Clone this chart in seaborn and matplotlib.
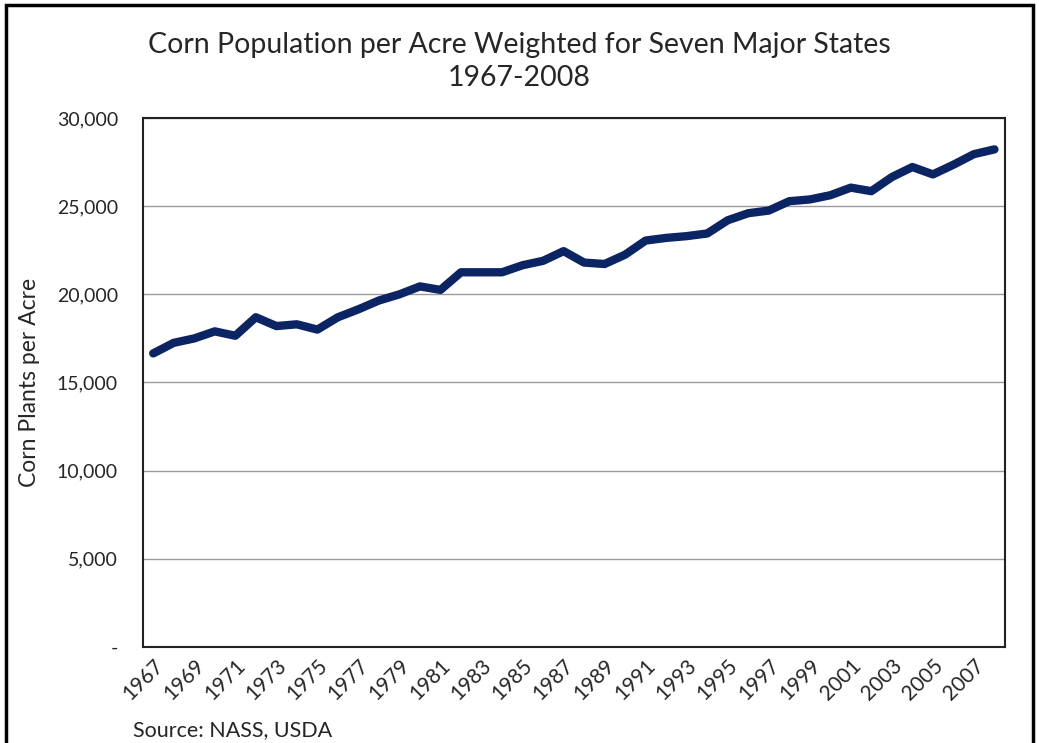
import pandas as pd
import matplotlib.pyplot as plt
import seaborn as sns
from matplotlib.patches import Rectangle
from matplotlib.ticker import FuncFormatter

years = list(range(1967, 2009))
plants = [16650, 17250, 17500, 17900, 17650, 18700, 18200, 18300, 18000, 18700,
          19150, 19650, 20000, 20450, 20250, 21250, 21250, 21250, 21650, 21900,
          22450, 21800, 21720, 22250, 23050, 23200, 23300, 23450, 24200, 24600,
          24750, 25280, 25380, 25620, 26050, 25850, 26650, 27220, 26800, 27350,
          27950, 28220]
tick_years = list(range(1967, 2009, 2))

df = pd.DataFrame({'Year': years, 'Plants': plants})

sns.set_style("white")
plt.rcParams['font.family'] = ['Lato', 'DejaVu Sans']

fig = plt.figure(figsize=(10.39, 7.43), dpi=100)
ax = fig.add_axes([0.1376, 0.1292, 0.8294, 0.712])

sns.lineplot(data=df, x='Year', y='Plants', ax=ax, color='#0b2463', linewidth=6,
             solid_joinstyle='round', solid_capstyle='round')

ax.set_xlim(1966.5, 2008.5)
ax.set_ylim(0, 30000)
ax.set_yticks(range(0, 30001, 5000))
ax.yaxis.set_major_formatter(FuncFormatter(lambda v, p: '-' if v == 0 else f'{int(v):,}'))
ax.set_xticks(tick_years)
ax.set_xticklabels([str(y) for y in tick_years], rotation=45, ha='right',
                   rotation_mode='anchor', fontsize=15)
ax.tick_params(axis='y', labelsize=14, length=0, pad=18)
ax.tick_params(axis='x', length=0, pad=6)
ax.grid(axis='y', color='#9a9a9a', linewidth=1)
ax.set_axisbelow(True)
for s in ax.spines.values():
    s.set_color('#222222')
    s.set_linewidth(1.5)

ax.set_xlabel('')
ax.set_ylabel('Corn Plants per Acre', fontsize=16.5)
ax.yaxis.set_label_coords(-0.119, 0.5)

fig.text(0.5, 0.917, 'Corn Population per Acre Weighted for Seven Major States\n1967-2008',
         ha='center', va='center', fontsize=20.5, linespacing=1.35)
fig.text(0.128, 0.017, 'Source: NASS, USDA', ha='left', va='center', fontsize=15.5)

# outer chart border
fig.patches.append(Rectangle((0.006, -0.05), 0.988, 1.043, transform=fig.transFigure,
                             fill=False, edgecolor='black', linewidth=2.5))

fig.savefig('out.png', dpi=100)
